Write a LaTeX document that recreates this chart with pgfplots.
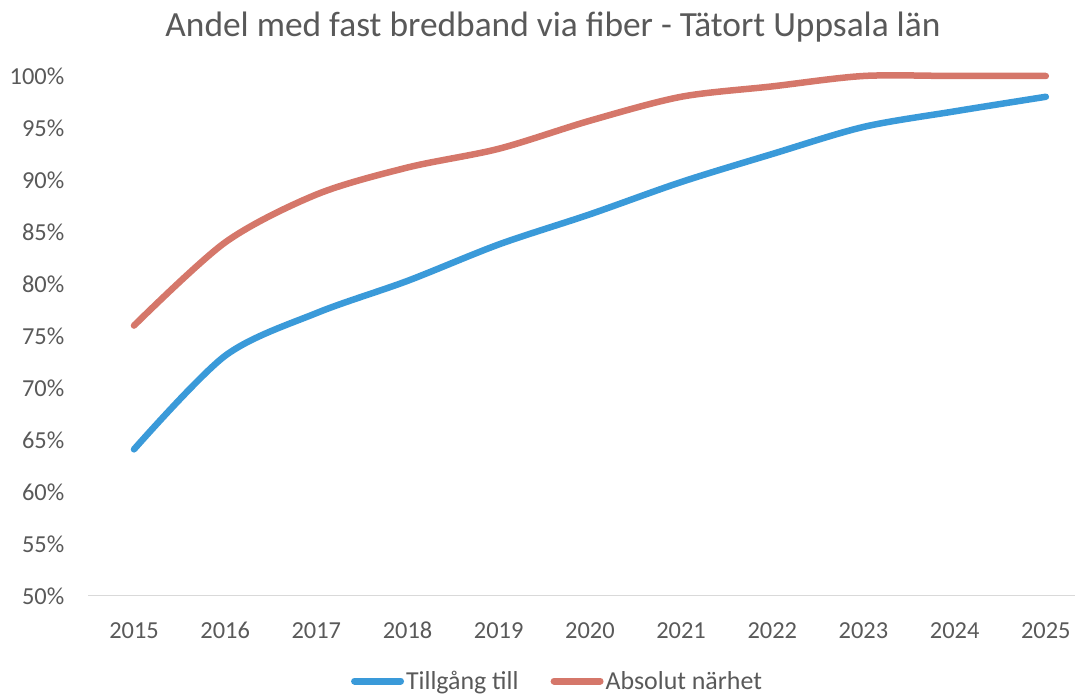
\documentclass[border=0pt]{standalone}
\usepackage{fontspec}
\setmainfont{Carlito}
\usepackage{pgfplots}
\pgfplotsset{compat=1.18}
\definecolor{cblue}{HTML}{3A9AD9}
\definecolor{cred}{HTML}{D5776A}
\definecolor{ctext}{HTML}{595959}
\definecolor{caxis}{HTML}{D9D9D9}
\begin{document}
\begin{tikzpicture}[x=1bp,y=1bp]
\path[use as bounding box] (0,0) rectangle (1075,695);
\node[text=ctext, font=\fontsize{35.5}{35.5}\selectfont] at (553,668) {Andel med fast bredband via fiber - Tätort Uppsala län};
\begin{axis}[
  at={(88.4bp,99bp)}, anchor=south west,
  scale only axis, width=986.6bp, height=520bp,
  xmin=2014.5, xmax=2025.32, ymin=50, ymax=100,
  clip=false,
  axis x line*=bottom, axis y line*=left,
  y axis line style={draw=none},
  x axis line style={draw=caxis, line width=1bp, -},
  major tick length=0pt,
  xtick={2015,2016,...,2025},
  ytick={50,55,...,100},
  /pgf/number format/assume math mode=true,
  tick label style={font=\fontsize{24.5}{24.5}\selectfont, text=ctext, inner sep=0pt},
  x tick label style={/pgf/number format/1000 sep={}, anchor=north, yshift=-26bp},
  yticklabel={\pgfmathprintnumber{\tick}\%},
  y tick label style={anchor=east, xshift=-24bp},
  legend columns=2,
  legend style={draw=none, fill=none, at={(0.4755,-0.1635)}, anchor=center,
    font=\fontsize{26}{26}\selectfont, text=ctext, inner sep=0pt,
    /tikz/every even column/.append style={column sep=30bp},
    /tikz/every odd column/.append style={column sep=0bp}},
  legend cell align=left,
  legend image code/.code={\draw[#1, line width=7bp, line cap=round] (0bp,0bp) -- (46bp,0bp);},
]
\addplot[cblue, line width=6.5bp, line cap=round, smooth, tension=0.5] coordinates {
(2015,64.1) (2016,73.1) (2017,77.2) (2018,80.3) (2019,83.8) (2020,86.7) (2021,89.8) (2022,92.5) (2023,95.1) (2024,96.6) (2025,98.0)};
\addlegendentry{Tillgång till}
\addplot[cred, line width=6.5bp, line cap=round, smooth, tension=0.5] coordinates {
(2015,76.0) (2016,84.0) (2017,88.6) (2018,91.2) (2019,93.0) (2020,95.7) (2021,98.0) (2022,99.0) (2023,100) (2024,100) (2025,100)};
\addlegendentry{Absolut närhet}
\end{axis}
\end{tikzpicture}
\end{document}
